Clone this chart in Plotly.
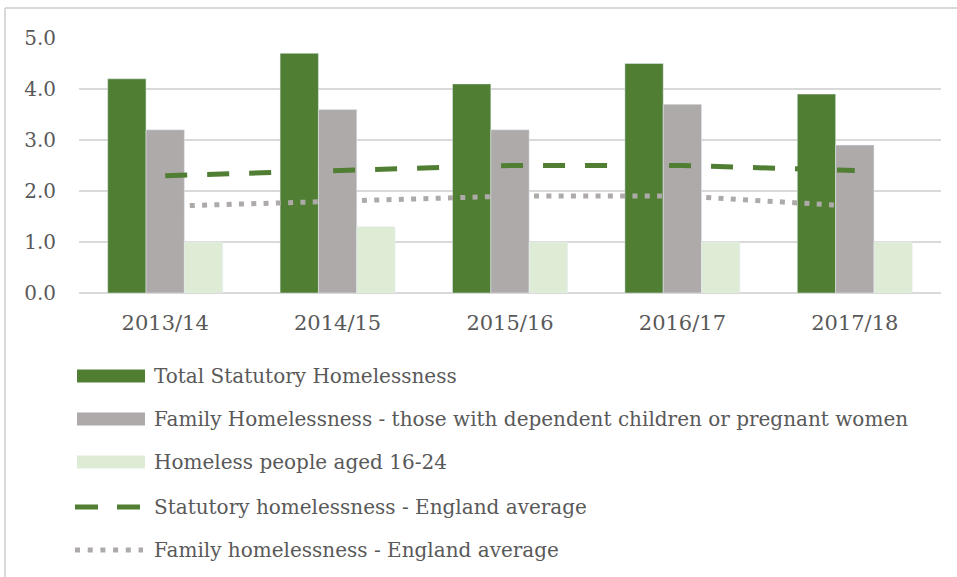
import plotly.graph_objects as go

# ---- data ----
years = ["2013/14", "2014/15", "2015/16", "2016/17", "2017/18"]
total_statutory = [4.2, 4.7, 4.1, 4.5, 3.9]
family_homeless = [3.2, 3.6, 3.2, 3.7, 2.9]
young_16_24 = [1.0, 1.3, 1.0, 1.0, 1.0]
england_statutory = [2.3, 2.4, 2.5, 2.5, 2.4]
england_family = [1.7, 1.8, 1.9, 1.9, 1.7]

series_names = [
    "Total Statutory Homelessness",
    "Family Homelessness - those with dependent children or pregnant women",
    "Homeless people aged 16-24",
    "Statutory homelessness - England average",
    "Family homelessness - England average",
]
y_ticks = [0, 1, 2, 3, 4, 5]

# ---- styling ----
GREEN = "#507e32"
GREY = "#aeaaaa"
LIGHT = "#deecd5"
TEXT = "#595959"
GRID = "#d9d9d9"
FONT = "DejaVu Serif"

W, H = 957, 577
L, R, T, B = 79, 941, 38, 293  # plot area in pixels
PW, PH = R - L, B - T


def px(x):
    return (x - L) / PW


def py(y):
    return (B - y) / PH


fig = go.Figure()
fig.add_bar(x=years, y=total_statutory, name=series_names[0], marker_color=GREEN)
fig.add_bar(x=years, y=family_homeless, name=series_names[1], marker_color=GREY)
fig.add_bar(x=years, y=young_16_24, name=series_names[2], marker_color=LIGHT)
fig.add_scatter(x=years, y=england_statutory, name=series_names[3], mode="lines",
                line=dict(color=GREEN, width=5, dash="22px,20px"))
fig.add_scatter(x=years, y=england_family, name=series_names[4], mode="lines",
                line=dict(color=GREY, width=5, dash="5px,7.3px"))

# ---- hand-drawn legend below the plot ----
shapes = []
annotations = []
rows = [376, 419, 462, 507, 550]
sym_x0, sym_x1, txt_x = 77, 145, 152
bar_colors = [GREEN, GREY, LIGHT]
for i, (name, ry) in enumerate(zip(series_names, rows)):
    if i < 3:
        shapes.append(dict(type="rect", xref="paper", yref="paper",
                           x0=px(sym_x0), x1=px(sym_x1), y0=py(ry - 6.5), y1=py(ry + 6.5),
                           fillcolor=bar_colors[i], line=dict(width=0), layer="above"))
    elif i == 3:
        shapes.append(dict(type="line", xref="paper", yref="paper",
                           x0=px(75), x1=px(141), y0=py(ry), y1=py(ry),
                           line=dict(color=GREEN, width=5, dash="23px,19px")))
    else:
        shapes.append(dict(type="line", xref="paper", yref="paper",
                           x0=px(75), x1=px(143), y0=py(ry), y1=py(ry),
                           line=dict(color=GREY, width=5, dash="5px,7.7px")))
    annotations.append(dict(text=name, xref="paper", yref="paper", x=px(txt_x), y=py(ry),
                            xanchor="left", yanchor="middle", showarrow=False,
                            font=dict(family=FONT, size=20, color=TEXT)))

# chart frame edges
shapes.append(dict(type="line", xref="paper", yref="paper", x0=px(5), x1=px(960),
                   y0=py(8), y1=py(8), line=dict(color=GRID, width=2)))
shapes.append(dict(type="line", xref="paper", yref="paper", x0=px(5), x1=px(5),
                   y0=py(8), y1=py(580), line=dict(color=GRID, width=2)))

fig.update_layout(
    width=W, height=H,
    margin=dict(l=L, r=W - R, t=T, b=H - B, pad=0),
    barmode="group", bargap=0.333, bargroupgap=0,
    plot_bgcolor="white", paper_bgcolor="white",
    showlegend=False,
    font=dict(family=FONT, color=TEXT, size=20),
    shapes=shapes, annotations=annotations,
)
fig.update_yaxes(range=[0, 5], tickvals=y_ticks, tickformat=".1f",
                 showgrid=True, gridcolor=GRID, gridwidth=1.5,
                 zeroline=True, zerolinecolor=GRID, zerolinewidth=2,
                 showline=False, ticks="", ticklabelstandoff=22,
                 tickfont=dict(family=FONT, size=20, color=TEXT))
fig.update_xaxes(showgrid=False, showline=False, ticks="", ticklabelstandoff=15,
                 tickfont=dict(family=FONT, size=21, color=TEXT))

fig.write_html("out.html")
